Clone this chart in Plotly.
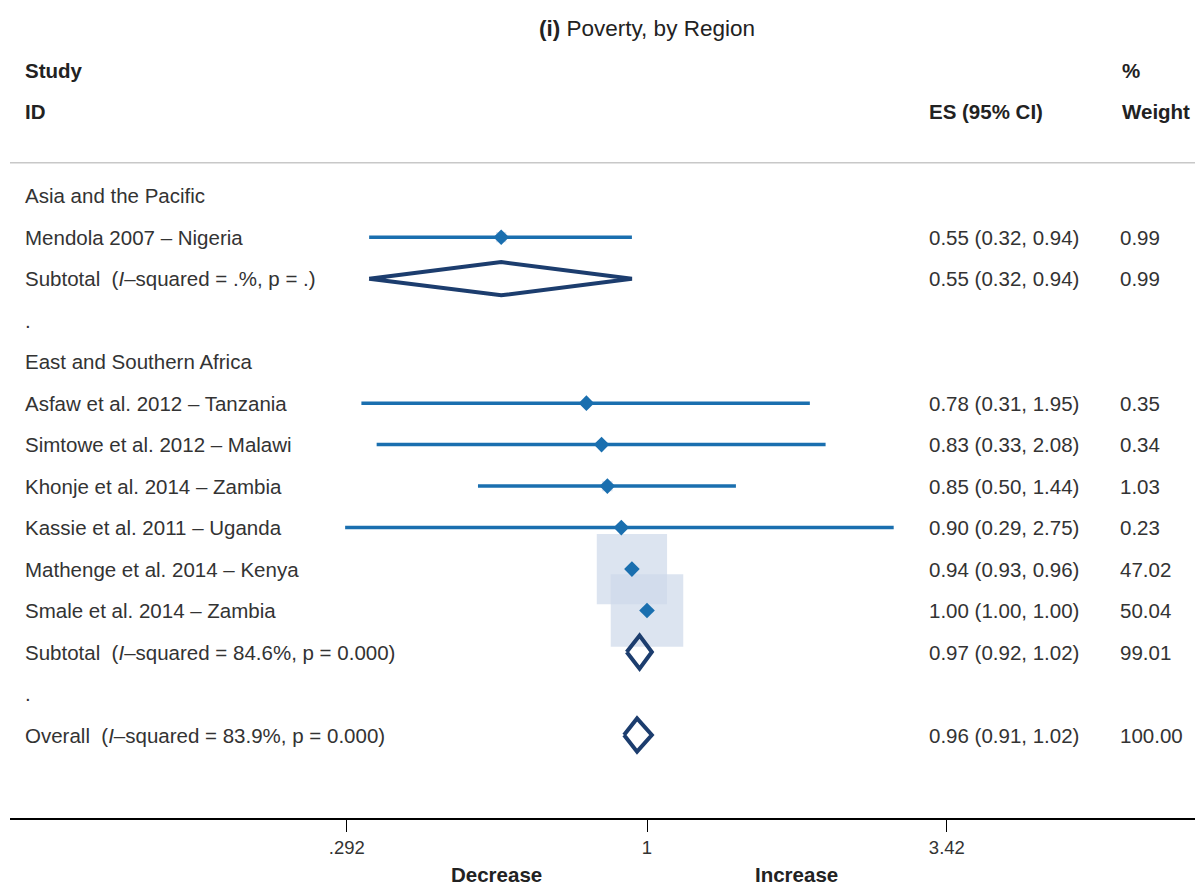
import math
import plotly.graph_objects as go

# ---------------- data ----------------
row_labels = [
    "Asia and the Pacific",
    "Mendola 2007 – Nigeria",
    "Subtotal  (<i>I</i>–squared = .%, p = .)",
    ".",
    "East and Southern Africa",
    "Asfaw et al. 2012 – Tanzania",
    "Simtowe et al. 2012 – Malawi",
    "Khonje et al. 2014 – Zambia",
    "Kassie et al. 2011 – Uganda",
    "Mathenge et al. 2014 – Kenya",
    "Smale et al. 2014 – Zambia",
    "Subtotal  (<i>I</i>–squared = 84.6%, p = 0.000)",
    ".",
    "Overall  (<i>I</i>–squared = 83.9%, p = 0.000)",
]
es_text = ["", "0.55 (0.32, 0.94)", "0.55 (0.32, 0.94)", "", "",
           "0.78 (0.31, 1.95)", "0.83 (0.33, 2.08)", "0.85 (0.50, 1.44)",
           "0.90 (0.29, 2.75)", "0.94 (0.93, 0.96)", "1.00 (1.00, 1.00)",
           "0.97 (0.92, 1.02)", "", "0.96 (0.91, 1.02)"]
weight_text = ["", "0.99", "0.99", "", "", "0.35", "0.34", "1.03", "0.23",
               "47.02", "50.04", "99.01", "", "100.00"]

study_rows = [1, 5, 6, 7, 8, 9, 10]
study_es = [0.55, 0.78, 0.83, 0.85, 0.90, 0.94, 1.00]
study_lo = [0.32, 0.31, 0.33, 0.50, 0.29, 0.93, 1.00]
study_hi = [0.94, 1.95, 2.08, 1.44, 2.75, 0.96, 1.00]
study_w = [0.99, 0.35, 0.34, 1.03, 0.23, 47.02, 50.04]

pooled_rows = [2, 11, 13]
pooled_es = [0.55, 0.97, 0.96]
pooled_lo = [0.32, 0.92, 0.91]
pooled_hi = [0.94, 1.02, 1.02]

overall_es = 0.96
tick_vals = [0.292, 1, 3.42]
tick_text = [".292", "1", "3.42"]

# ---------------- styling ----------------
FONT = "Liberation Sans"
TXT = "#333333"
BLUE = "#1a6faf"
NAVY = "#1c3d6e"
BOX = "#cdd8e9"
FS = 20.5

W, H = 1195, 887
ML, MR, MT, MB = 10, 0, 9, 69
PW = W - ML - MR
PH = H - MT - MB
px_per_dec = 561.5
x_one_px = 647
xr = [-(x_one_px - ML) / px_per_dec, (W - MR - x_one_px) / px_per_dec]
yr = [15, -4.5]


def px2paper(px):
    return (px - ML) / PW


fig = go.Figure()

# weight boxes (area proportional to weight)
fig.add_trace(go.Scatter(
    x=study_es, y=study_rows, mode="markers",
    marker=dict(symbol="square", size=[10.25 * math.sqrt(w) for w in study_w],
                color=BOX, line=dict(width=0)),
    hoverinfo="skip", showlegend=False))

# CI lines
for r, lo, hi in zip(study_rows, study_lo, study_hi):
    if hi > lo:
        fig.add_trace(go.Scatter(x=[lo, hi], y=[r, r], mode="lines",
                                 line=dict(color=BLUE, width=3.5),
                                 hoverinfo="skip", showlegend=False))

# point estimates
fig.add_trace(go.Scatter(
    x=study_es, y=study_rows, mode="markers",
    marker=dict(symbol="diamond", size=12, color=BLUE, line=dict(width=0)),
    hoverinfo="skip", showlegend=False))

# pooled diamonds
dh = 0.4
for r, e, lo, hi in zip(pooled_rows, pooled_es, pooled_lo, pooled_hi):
    fig.add_trace(go.Scatter(
        x=[lo, e, hi, e, lo], y=[r, r - dh, r, r + dh, r], mode="lines",
        line=dict(color=NAVY, width=4), fill="toself", fillcolor="rgba(255,255,255,0)",
        hoverinfo="skip", showlegend=False))

shapes = [
    dict(type="line", xref="paper", yref="y", x0=0, x1=1, y0=-0.795, y1=-0.795,
         line=dict(color="#c8c8c8", width=1.5)),
    dict(type="line", xref="x", yref="y", x0=0, x1=0, y0=-0.77, y1=15,
         line=dict(color="black", width=1)),
    dict(type="line", xref="x", yref="y", x0=math.log10(overall_es), x1=math.log10(overall_es),
         y0=-0.77, y1=15, line=dict(color="#a3b0d0", width=2.5, dash="dash"), layer="below"),
]

ann = []
for i, lab in enumerate(row_labels):
    ann.append(dict(x=px2paper(23), xref="paper", y=i, yref="y", text=lab,
                    xanchor="left", yanchor="middle", showarrow=False,
                    font=dict(family=FONT, size=FS, color=TXT)))
    if es_text[i]:
        ann.append(dict(x=px2paper(927), xref="paper", y=i, yref="y", text=es_text[i],
                        xanchor="left", yanchor="middle", showarrow=False,
                        font=dict(family=FONT, size=FS, color=TXT)))
    if weight_text[i]:
        ann.append(dict(x=px2paper(1118), xref="paper", y=i, yref="y", text=weight_text[i],
                        xanchor="left", yanchor="middle", showarrow=False,
                        font=dict(family=FONT, size=FS, color=TXT)))

headers = [(23, -3.01, "<b>Study</b>"), (23, -2.02, "<b>ID</b>"),
           (927, -2.02, "<b>ES (95% CI)</b>"), (1120, -3.01, "<b>%</b>"),
           (1120, -2.02, "<b>Weight</b>")]
for px, r, t in headers:
    ann.append(dict(x=px2paper(px), xref="paper", y=r, yref="y", text=t,
                    xanchor="left", yanchor="middle", showarrow=False,
                    font=dict(family=FONT, size=FS, color="#222222")))

ann.append(dict(x=0, xref="x", y=-4.02, yref="y", text="<b>(i)</b> Poverty, by Region",
                xanchor="center", yanchor="middle", showarrow=False,
                font=dict(family=FONT, size=22.5, color="#222222")))

for px, t in [(496, "<b>Decrease</b>"), (797, "<b>Increase</b>")]:
    ann.append(dict(x=px2paper(px), xref="paper", y=-(887 - (MT + PH)) / PH,
                    yref="paper", text=t, xanchor="center", yanchor="bottom",
                    borderpad=0, showarrow=False,
                    font=dict(family=FONT, size=FS, color="#222222")))

fig.update_layout(
    width=W, height=H, margin=dict(l=ML, r=MR, t=MT, b=MB),
    paper_bgcolor="white", plot_bgcolor="white",
    showlegend=False, shapes=shapes, annotations=ann,
    xaxis=dict(type="log", range=xr, tickvals=tick_vals, ticktext=tick_text,
               ticks="outside", ticklen=12, tickwidth=1, tickcolor="black",
               showline=True, linecolor="black", linewidth=1.5,
               showgrid=False, zeroline=False,
               tickfont=dict(family=FONT, size=18.5, color=TXT)),
    yaxis=dict(range=yr, visible=False, showgrid=False, zeroline=False),
)

fig.write_html("out.html", config={"displayModeBar": False},
               post_script="document.body.style.margin='0';document.body.style.overflow='hidden';")
